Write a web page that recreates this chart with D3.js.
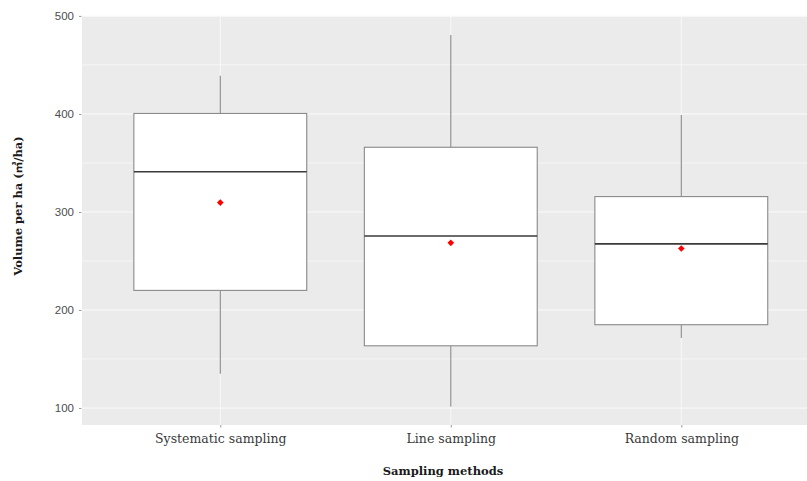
<!DOCTYPE html>
<html>
<head>
<meta charset="utf-8">
<script src="https://cdn.jsdelivr.net/npm/d3@7"></script>
<style>
  html, body { margin: 0; padding: 0; background: #fff; }
  svg { display: block; }
</style>
</head>
<body>
<svg id="chart" width="807" height="481"></svg>
<script>
// ---- Data ----
const categories = ["Systematic sampling", "Line sampling", "Random sampling"];
const whiskerLow  = [135, 101.6, 171.4];
const q1          = [220, 163.5, 185];
const median      = [341, 275.5, 267.5];
const q3          = [400.5, 366, 315.7];
const whiskerHigh = [439, 480.5, 399];
const means       = [309.6, 268.5, 262.7];
const yTicks      = [100, 200, 300, 400, 500];
const yMinor      = [150, 250, 350, 450];
const xTitle = "Sampling methods";
const yTitle = "Volume per ha (㎥/ha)";

const data = categories.map((c, i) => ({
  cat: c, lo: whiskerLow[i], q1: q1[i], med: median[i], q3: q3[i], hi: whiskerHigh[i], mean: means[i]
}));

// ---- Layout ----
const panel = { left: 82, top: 16.5, right: 819.6, bottom: 425 };

const svg = d3.select("#chart");

const x = d3.scalePoint().domain(categories).range([panel.left, panel.right]).padding(0.6);
const y = d3.scaleLinear().domain([82.7, 499.4]).range([panel.bottom, panel.top]);
const boxW = x.step() * 0.75;

// Panel background
svg.append("rect")
  .attr("x", panel.left).attr("y", panel.top)
  .attr("width", panel.right - panel.left).attr("height", panel.bottom - panel.top)
  .attr("fill", "#ebebeb");

// Minor grid
svg.append("g").selectAll("line").data(yMinor).join("line")
  .attr("x1", panel.left).attr("x2", panel.right)
  .attr("y1", d => y(d)).attr("y2", d => y(d))
  .attr("stroke", "#f6f6f6").attr("stroke-width", 1);

// Major grid
svg.append("g").selectAll("line").data(yTicks).join("line")
  .attr("x1", panel.left).attr("x2", panel.right)
  .attr("y1", d => y(d)).attr("y2", d => y(d))
  .attr("stroke", "#fbfbfb").attr("stroke-width", 1);
svg.append("g").selectAll("line").data(categories).join("line")
  .attr("x1", d => x(d)).attr("x2", d => x(d))
  .attr("y1", panel.top).attr("y2", panel.bottom)
  .attr("stroke", "#f8f8f8").attr("stroke-width", 1);

// Axes
const yAxis = d3.axisLeft(y).tickValues(yTicks).tickSize(2.5).tickPadding(5);
const gy = svg.append("g").attr("transform", `translate(${panel.left - 0.5},0)`).call(yAxis);
gy.select(".domain").remove();
gy.selectAll(".tick line").attr("stroke", "#9a9a9a");
gy.selectAll(".tick text")
  .attr("fill", "#4d4d4d")
  .style("font-family", "'Liberation Sans', Arial, sans-serif")
  .style("font-size", "11.5px");

const xAxis = d3.axisBottom(x).tickSize(2.5).tickPadding(7);
const gx = svg.append("g").attr("transform", `translate(0,${panel.bottom})`).call(xAxis);
gx.select(".domain").remove();
gx.selectAll(".tick line").attr("stroke", "#9a9a9a");
gx.selectAll(".tick text")
  .attr("fill", "#3a3a3a")
  .style("font-family", "'DejaVu Serif', serif")
  .style("font-size", "12.5px");

// Boxes
const g = svg.append("g");
const box = g.selectAll("g.box").data(data).join("g").attr("class", "box");

box.append("line")
  .attr("x1", d => x(d.cat)).attr("x2", d => x(d.cat))
  .attr("y1", d => y(d.hi)).attr("y2", d => y(d.q3))
  .attr("stroke", "#8a8a8a").attr("stroke-width", 1.1);
box.append("line")
  .attr("x1", d => x(d.cat)).attr("x2", d => x(d.cat))
  .attr("y1", d => y(d.q1)).attr("y2", d => y(d.lo))
  .attr("stroke", "#8a8a8a").attr("stroke-width", 1.1);
box.append("rect")
  .attr("x", d => x(d.cat) - boxW / 2).attr("width", boxW)
  .attr("y", d => y(d.q3)).attr("height", d => y(d.q1) - y(d.q3))
  .attr("fill", "#ffffff").attr("stroke", "#8a8a8a").attr("stroke-width", 1.1);
box.append("line")
  .attr("x1", d => x(d.cat) - boxW / 2).attr("x2", d => x(d.cat) + boxW / 2)
  .attr("y1", d => y(d.med)).attr("y2", d => y(d.med))
  .attr("stroke", "#3a3a3a").attr("stroke-width", 1.6);

// Mean markers (red diamonds)
box.append("path")
  .attr("d", d3.symbol(d3.symbolSquare2, 28)())
  .attr("transform", d => `translate(${x(d.cat)},${y(d.mean)}) rotate(45)`)
  .attr("fill", "#ff0000");

// Axis titles
svg.append("text")
  .attr("x", 443).attr("y", 475)
  .attr("text-anchor", "middle")
  .style("font-family", "'DejaVu Serif', serif").style("font-weight", "bold").style("font-size", "11.5px")
  .attr("fill", "#1a1a1a")
  .text(xTitle);

svg.append("text")
  .attr("transform", `translate(22,206) rotate(-90)`)
  .attr("text-anchor", "middle")
  .style("font-family", "'DejaVu Serif', 'Noto Sans CJK KR', serif").style("font-weight", "bold").style("font-size", "11.5px")
  .attr("fill", "#1a1a1a")
  .text(yTitle);
</script>
</body>
</html>
